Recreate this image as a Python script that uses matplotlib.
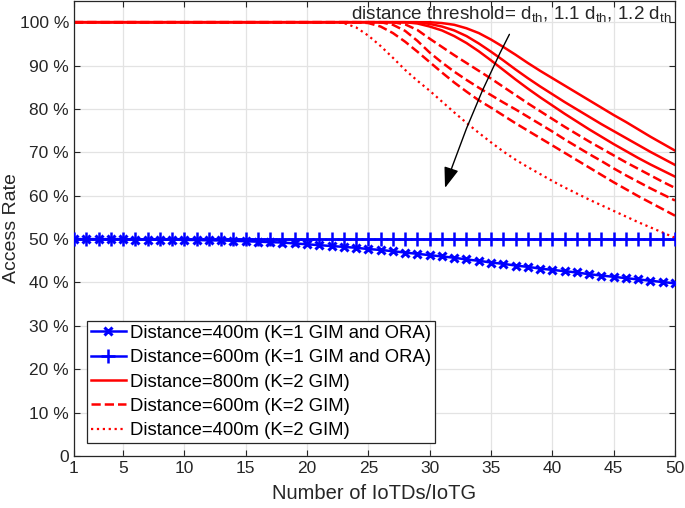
import matplotlib
matplotlib.use('Agg')
import matplotlib.pyplot as plt

plt.rcParams['font.family'] = ['Liberation Sans', 'DejaVu Sans']

# x positions (number of IoTDs per IoTG) where the K=2 curves were read
X_RED = [1] + list(range(20, 51))

# K=2 GIM, distance 800m (solid) for d_th, 1.1 d_th, 1.2 d_th
SOLID_1 = [100] * 12 + [99.8, 99.4, 98.6, 97.5, 96.0, 94.3, 92.5, 90.6, 88.8, 87.1,
                        85.4, 83.7, 82.0, 80.3, 78.6, 77.0, 75.3, 73.6, 72.0, 70.4]
SOLID_2 = [100] * 11 + [99.6, 99.0, 98.1, 96.8, 95.1, 93.2, 91.2, 89.1, 87.1, 85.2,
                        83.4, 81.6, 79.9, 78.2, 76.5, 74.9, 73.3, 71.7, 70.1, 68.6, 67.1]
SOLID_3 = [100] * 10 + [99.7, 99.0, 98.1, 96.8, 95.2, 93.3, 91.2, 89.0, 86.8, 84.7,
                        82.7, 80.8, 78.9, 77.1, 75.3, 73.6, 71.9, 70.3, 68.7, 67.2, 65.8, 64.4]

# K=2 GIM, distance 600m (dashed)
DASHED_1 = [100] * 9 + [99.5, 98.2, 96.2, 94.3, 92.4, 90.6, 88.8, 87.0, 85.1, 83.2, 81.3, 79.5,
                        77.7, 75.9, 74.2, 72.5, 70.9, 69.3, 67.7, 66.2, 64.7, 63.2, 61.8]
DASHED_2 = [100] * 8 + [99.4, 98.0, 95.7, 93.0, 90.7, 88.6, 86.7, 84.9, 83.2, 81.5, 79.9, 78.2,
                        76.5, 74.8, 73.0, 71.3, 69.6, 68.0, 66.3, 64.7, 63.2, 61.7, 60.3, 58.9]
DASHED_3 = [100] * 6 + [99.8, 99.0, 97.5, 95.5, 93.2, 90.8, 88.4, 86.1, 84.0, 82.0, 80.3, 78.5, 76.7,
                        75.0, 73.3, 71.6, 69.9, 68.2, 66.5, 64.8, 63.1, 61.5, 59.9, 58.4, 56.9, 55.4]

# K=2 GIM, distance 400m (dotted)
DOTTED = [100] * 4 + [99.8, 98.8, 96.9, 94.5, 91.8, 89.0, 86.5, 84.2, 81.7, 79.2, 76.8, 74.5, 72.3, 70.2,
                      68.3, 66.6, 65.0, 63.4, 61.9, 60.5, 59.1, 57.8, 56.5, 55.2, 53.9, 52.7, 51.5, 50.3]

# K=1 GIM and ORA, one value per IoTD count 1..50
X_BLUE = list(range(1, 51))
K1_400 = [50.0, 50.0, 50.0, 50.0, 50.0, 49.9, 49.9, 49.9, 49.9, 49.8,
          49.8, 49.7, 49.7, 49.6, 49.5, 49.4, 49.3, 49.2, 49.0, 48.8,
          48.6, 48.4, 48.2, 48.0, 47.7, 47.5, 47.2, 46.9, 46.6, 46.3,
          46.0, 45.7, 45.3, 45.0, 44.6, 44.3, 43.9, 43.6, 43.2, 42.9,
          42.6, 42.3, 41.9, 41.6, 41.3, 41.0, 40.7, 40.4, 40.1, 39.8]
K1_600 = [50.0] * 50

X_TICKS = [1, 5, 10, 15, 20, 25, 30, 35, 40, 45, 50]
Y_TICKS = [0, 10, 20, 30, 40, 50, 60, 70, 80, 90, 100]
Y_LABELS = ['0'] + [str(v) + ' %' for v in Y_TICKS[1:]]

fig = plt.figure(figsize=(6.85, 5.08), dpi=100)
ax = fig.add_axes([0.108, 0.1024, 0.8774, 0.8966])

ax.plot(X_BLUE, K1_400, color='blue', lw=1.8, marker='x', ms=5.5, mew=2.2,
        label='Distance=400m (K=1 GIM and ORA)', zorder=4)
ax.plot(X_BLUE, K1_600, color='blue', lw=1.8, marker='+', ms=9.5, mew=1.8,
        label='Distance=600m (K=1 GIM and ORA)', zorder=4)

for i, ys in enumerate([SOLID_1, SOLID_2, SOLID_3]):
    ax.plot(X_RED, ys, color='red', lw=1.8, ls='-',
            label='Distance=800m (K=2 GIM)' if i == 0 else '_nolegend_')
for i, ys in enumerate([DASHED_1, DASHED_2, DASHED_3]):
    ax.plot(X_RED, ys, color='red', lw=1.8, ls='--',
            label='Distance=600m (K=2 GIM)' if i == 0 else '_nolegend_')
ax.plot(X_RED, DOTTED, color='red', lw=1.6, ls=':', label='Distance=400m (K=2 GIM)')

ax.set_xlim(1, 50)
ax.set_ylim(0, 105)
ax.set_xticks(X_TICKS)
ax.set_yticks(Y_TICKS)
ax.set_yticklabels(Y_LABELS)
ax.tick_params(direction='in', top=True, right=True, length=4, width=0.8,
               labelsize=12.5, colors='#262626')
ax.grid(True, color='#e3e3e3', lw=0.9)
ax.set_axisbelow(True)
for s in ax.spines.values():
    s.set_color('#262626')
    s.set_linewidth(0.9)

ax.set_xlabel('Number of IoTDs/IoTG', fontsize=14.5, color='#262626', labelpad=6)
ax.set_ylabel('Access Rate', fontsize=14, color='#262626')
ax.yaxis.set_label_coords(-0.09, 0.5)

ax.text(23.6, 102, r'distance threshold= d$\mathregular{_{th}}$, 1.1 d$\mathregular{_{th}}$, 1.2 d$\mathregular{_{th}}$',
        fontsize=13.6, va='center', ha='left', color='#262626')
ax.annotate('', xy=(31.25, 61.8), xytext=(36.5, 97.2),
            arrowprops=dict(arrowstyle='-|>,head_length=0.7,head_width=0.25', color='black',
                            lw=1.0, mutation_scale=18, connectionstyle='arc3,rad=0.04',
                            shrinkA=0, shrinkB=0))

leg = ax.legend(loc='lower left', bbox_to_anchor=(0.0215, 0.0285), borderaxespad=0,
                fontsize=13.3, handlelength=1.9, handletextpad=0.25, labelspacing=0.4,
                borderpad=0.2, fancybox=False, framealpha=1, edgecolor='#262626')
leg.get_frame().set_linewidth(0.9)

fig.savefig('out.png', dpi=100)
